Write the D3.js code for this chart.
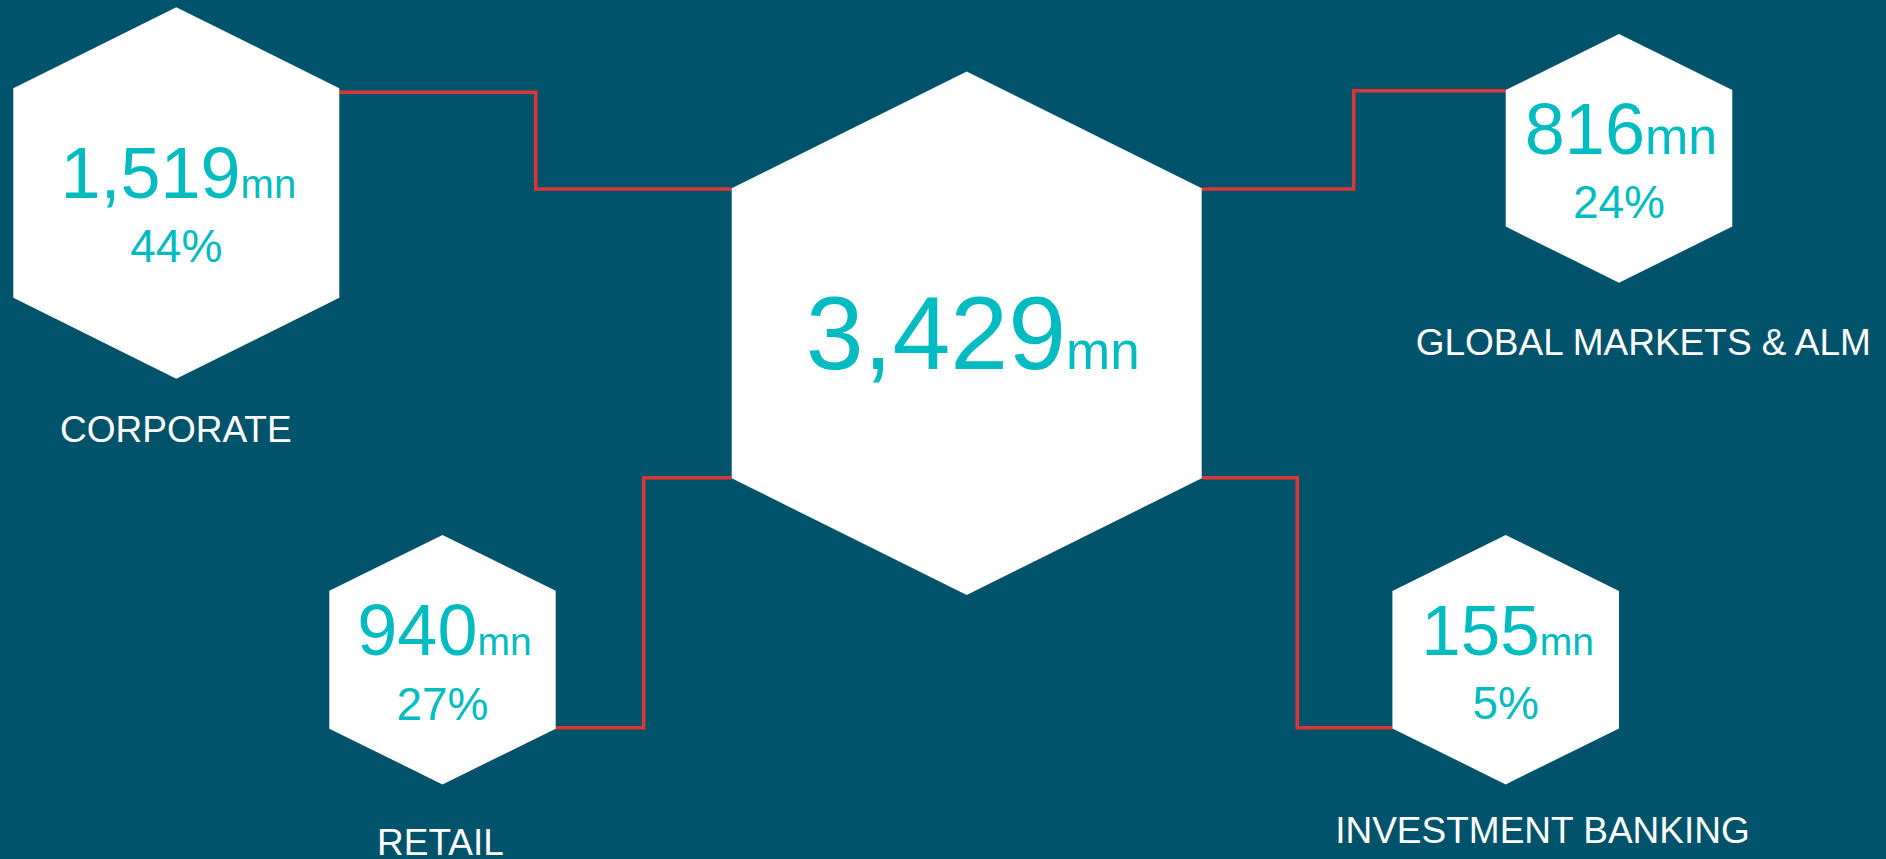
<!DOCTYPE html>
<html>
<head>
<meta charset="utf-8">
<title>Operating income by business line</title>
<script src="https://cdn.jsdelivr.net/npm/d3@7/dist/d3.min.js"></script>
<style>
  html, body { margin: 0; padding: 0; background: #00536a; overflow: hidden; }
  svg { display: block; }
  text { font-family: "Liberation Sans", Arial, sans-serif; }
</style>
</head>
<body>
<svg id="chart" width="1886" height="859"></svg>
<script>
// Business lines, their income (mn) and share of the total
const segments = ["CORPORATE", "GLOBAL MARKETS & ALM", "RETAIL", "INVESTMENT BANKING"];
const values = [1519, 816, 940, 155];
const shares = [44, 24, 27, 5];
const totalValue = 3429;
const unit = "mn";

// Palette
const BG = "#00536a";
const HEX_FILL = "#ffffff";
const ACCENT = "#00bcc0";
const LINK = "#dc3737";
const LABEL = "#ffffff";

// Layout of the hexagon tiles (centre, half width, half height, shoulder offset)
const hubLayout = { cx: 966.7, cy: 333.3, hw: 235, hh: 261.7, so: 145, valueSize: 104, unitSize: 53, valueBase: 369 };
const tileLayout = [
  { cx: 176.3, cy: 193,   hw: 163,   hh: 185.8, so: 104.7, valueSize: 72, unitSize: 40, pctSize: 46, valueBase: 198.3, pctBase: 261.7,
    labelX: 175.8, labelBase: 441.7, side: "left",  elbowX: 535.7, hubY: 189, tileY: 92.3 },
  { cx: 1619,   cy: 158.3, hw: 113.3, hh: 124.4, so: 68.3,  valueSize: 72, unitSize: 52, pctSize: 46, valueBase: 154.3, pctBase: 218.3,
    labelX: 1643.3, labelBase: 355, side: "right", elbowX: 1353.7, hubY: 189, tileY: 90.7 },
  { cx: 442.5,  cy: 659.7, hw: 113.2, hh: 124.7, so: 69,    valueSize: 72, unitSize: 39, pctSize: 46, valueBase: 655, pctBase: 720,
    labelX: 440.5, labelBase: 855, side: "left",  elbowX: 643.7, hubY: 477.7, tileY: 727.7 },
  { cx: 1505.7, cy: 659.7, hw: 113.3, hh: 124.7, so: 68.7,  valueSize: 71, unitSize: 39, pctSize: 46, valueBase: 655, pctBase: 719,
    labelX: 1542.5, labelBase: 843.3, side: "right", elbowX: 1297.3, hubY: 477.7, tileY: 727.7 }
];

const fmt = d3.format(",");
const svg = d3.select("#chart");

svg.append("rect").attr("width", 1886).attr("height", 859).attr("fill", BG);

// Flat-sided hexagon with vertical left/right edges
function hexPoints(t) {
  return [
    [t.cx, t.cy - t.hh],
    [t.cx + t.hw, t.cy - t.so],
    [t.cx + t.hw, t.cy + t.so],
    [t.cx, t.cy + t.hh],
    [t.cx - t.hw, t.cy + t.so],
    [t.cx - t.hw, t.cy - t.so]
  ];
}

const line = d3.line();

// Elbow connectors from the central hub to each tile
const links = svg.append("g").attr("class", "links");
tileLayout.forEach(t => {
  const hubX = t.side === "left" ? hubLayout.cx - hubLayout.hw : hubLayout.cx + hubLayout.hw;
  const tileX = t.side === "left" ? t.cx + t.hw : t.cx - t.hw;
  const pts = [[hubX, t.hubY], [t.elbowX, t.hubY], [t.elbowX, t.tileY], [tileX, t.tileY]];
  links.append("path")
    .attr("d", line(pts))
    .attr("fill", "none")
    .attr("stroke", LINK)
    .attr("stroke-width", 3.6)
    .attr("stroke-linejoin", "miter");
});

// Central hub
const hub = svg.append("g").attr("class", "hub");
hub.append("polygon")
  .attr("points", hexPoints(hubLayout).map(p => p.join(",")).join(" "))
  .attr("fill", HEX_FILL);
const hubText = hub.append("text")
  .attr("x", hubLayout.cx + 6)
  .attr("y", hubLayout.valueBase)
  .attr("text-anchor", "middle")
  .attr("fill", ACCENT);
hubText.append("tspan").attr("font-size", hubLayout.valueSize).text(fmt(totalValue));
hubText.append("tspan").attr("font-size", hubLayout.unitSize).text(unit);

// Segment tiles
const tiles = svg.selectAll("g.tile")
  .data(segments.map((name, i) => ({ name, value: values[i], share: shares[i], layout: tileLayout[i] })))
  .join("g")
  .attr("class", "tile");

tiles.append("polygon")
  .attr("points", d => hexPoints(d.layout).map(p => p.join(",")).join(" "))
  .attr("fill", HEX_FILL);

const valueText = tiles.append("text")
  .attr("x", d => d.layout.cx + 2)
  .attr("y", d => d.layout.valueBase)
  .attr("text-anchor", "middle")
  .attr("fill", ACCENT);
valueText.append("tspan").attr("font-size", d => d.layout.valueSize).text(d => fmt(d.value));
valueText.append("tspan").attr("font-size", d => d.layout.unitSize).text(unit);

tiles.append("text")
  .attr("x", d => d.layout.cx)
  .attr("y", d => d.layout.pctBase)
  .attr("text-anchor", "middle")
  .attr("fill", ACCENT)
  .attr("font-size", d => d.layout.pctSize)
  .text(d => d.share + "%");

tiles.append("text")
  .attr("x", d => d.layout.labelX)
  .attr("y", d => d.layout.labelBase)
  .attr("text-anchor", "middle")
  .attr("fill", LABEL)
  .attr("font-size", 37)
  .text(d => d.name);
</script>
</body>
</html>
